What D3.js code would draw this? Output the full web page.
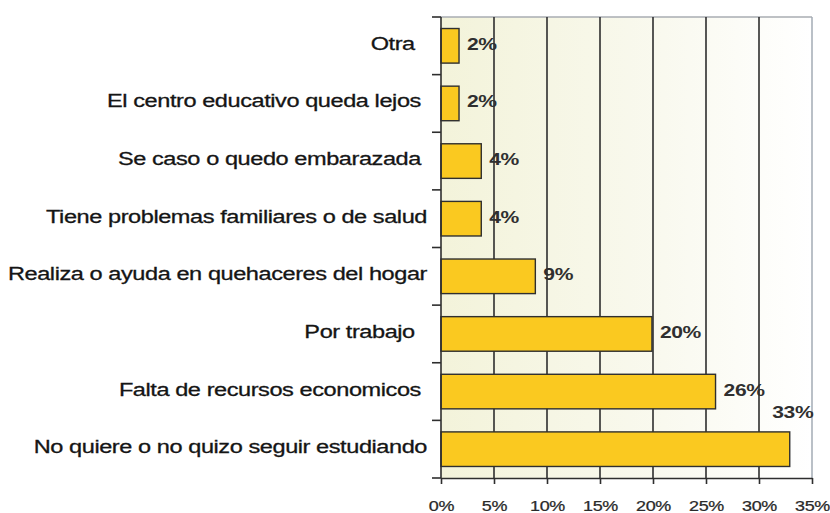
<!DOCTYPE html>
<html>
<head>
<meta charset="utf-8">
<script src="https://cdn.jsdelivr.net/npm/d3@7"></script>
<style>
  html, body { margin: 0; padding: 0; background: #fff; }
  svg { display: block; }
  text { font-family: "Liberation Sans", Arial, sans-serif; white-space: pre; }
</style>
</head>
<body>
<svg id="chart" width="830" height="513"></svg>
<script>
// ---- data ----
const categories = [
  "Otra  ",
  "El centro educativo queda lejos ",
  "Se caso o quedo embarazada ",
  "Tiene problemas familiares o de salud",
  "Realiza o ayuda en quehaceres del hogar",
  "Por trabajo  ",
  "Falta de recursos economicos ",
  "No quiere o no quizo seguir estudiando"
];
const values = [1.7, 1.7, 3.8, 3.8, 8.9, 19.9, 25.9, 32.9];
const valueLabels = ["2%", "2%", "4%", "4%", "9%", "20%", "26%", "33%"];
const xTicks = [0, 5, 10, 15, 20, 25, 30, 35];
const xTickLabels = ["0%", "5%", "10%", "15%", "20%", "25%", "30%", "35%"];

// ---- layout ----
const SX = 1.24; // horizontal stretch of the original text
const plotL = 441, plotR = 812, plotT = 17, plotB = 478;
const svg = d3.select("#chart");

const x = d3.scaleLinear().domain([0, 35]).range([plotL, plotR]);
const y = d3.scaleBand().domain(categories).range([plotT, plotB])
  .paddingInner(0.4).paddingOuter(0.2);

// background gradient
const defs = svg.append("defs");
const grad = defs.append("linearGradient").attr("id", "bg")
  .attr("x1", "0%").attr("x2", "100%").attr("y1", "0%").attr("y2", "0%");
grad.append("stop").attr("offset", "0%").attr("stop-color", "#f3f3da");
grad.append("stop").attr("offset", "60%").attr("stop-color", "#f9f9ef");
grad.append("stop").attr("offset", "100%").attr("stop-color", "#ffffff");

svg.append("rect").attr("x", x(0)).attr("y", plotT)
  .attr("width", x(35) - x(0)).attr("height", plotB - plotT)
  .attr("fill", "url(#bg)");

// top border and right border (light)
svg.append("line").attr("x1", x(0)).attr("x2", x(35)).attr("y1", plotT).attr("y2", plotT)
  .attr("stroke", "#a9adb2").attr("stroke-width", 1.5);
svg.append("line").attr("x1", x(35)).attr("x2", x(35)).attr("y1", plotT).attr("y2", plotB)
  .attr("stroke", "#a3abb5").attr("stroke-width", 1.5);

// gridlines
svg.append("g").selectAll("line")
  .data(xTicks.filter(d => d > 0 && d < 35))
  .join("line")
  .attr("x1", d => x(d)).attr("x2", d => x(d))
  .attr("y1", plotT).attr("y2", plotB)
  .attr("stroke", "#2e2e2e").attr("stroke-width", 1.6);

// bars
svg.append("g").selectAll("rect")
  .data(values)
  .join("rect")
  .attr("x", x(0))
  .attr("y", (d, i) => y(categories[i]))
  .attr("width", d => x(d) - x(0))
  .attr("height", y.bandwidth())
  .attr("fill", "#fac920")
  .attr("stroke", "#2f2f2f")
  .attr("stroke-width", 1.4);

// bottom axis
const xAxis = d3.axisBottom(x).tickValues(xTicks)
  .tickFormat((d, i) => xTickLabels[i]).tickSize(6).tickSizeOuter(0);
const gx = svg.append("g").attr("transform", `translate(0,${plotB})`).call(xAxis);
gx.select(".domain").attr("stroke", "#2e2e2e").attr("stroke-width", 1.6);
gx.selectAll(".tick line").attr("stroke", "#2e2e2e").attr("stroke-width", 1.6);
gx.selectAll(".tick text")
  .attr("fill", "#2a2a2a").attr("font-size", 14.5)
  .attr("stroke", "#2a2a2a").attr("stroke-width", 0.25)
  .attr("font-family", "Liberation Sans, Arial, sans-serif")
  .attr("letter-spacing", -0.3)
  .attr("y", 0).attr("dy", 0)
  .attr("transform", `translate(0,33) scale(${SX},1)`);

// left axis line and boundary ticks
svg.append("line").attr("x1", plotL).attr("x2", plotL).attr("y1", plotT).attr("y2", plotB)
  .attr("stroke", "#2e2e2e").attr("stroke-width", 1.6);
const boundaries = d3.range(categories.length + 1).map(k => plotT + k * y.step());
svg.append("g").selectAll("line").data(boundaries).join("line")
  .attr("x1", plotL - 9).attr("x2", plotL)
  .attr("y1", d => d).attr("y2", d => d)
  .attr("stroke", "#2e2e2e").attr("stroke-width", 1.6);

// category labels
svg.append("g").selectAll("text").data(categories).join("text")
  .attr("text-anchor", "end")
  .attr("font-size", 19)
  .attr("letter-spacing", -0.35)
  .attr("fill", "#151515")
  .attr("stroke", "#151515").attr("stroke-width", 0.3)
  .attr("transform", d => `translate(${plotL - 14},${y(d) + y.bandwidth() / 2 + 4}) scale(${SX},1)`)
  .text(d => d);

// value labels
svg.append("g").selectAll("text").data(values).join("text")
  .attr("font-size", 17)
  .attr("font-weight", "bold")
  .attr("letter-spacing", -0.3)
  .attr("fill", "#2f2f2f")
  .attr("text-anchor", d => (x(d) + 50 > 830 ? "middle" : "start"))
  .attr("transform", (d, i) => {
    const yc = y(categories[i]) + y.bandwidth() / 2;
    if (x(d) + 50 > 830) {
      return `translate(${x(d) + 3},${y(categories[i]) - 14}) scale(${SX},1)`;
    }
    return `translate(${x(d) + 8},${yc + 4}) scale(${SX},1)`;
  })
  .text((d, i) => valueLabels[i]);
</script>
</body>
</html>
